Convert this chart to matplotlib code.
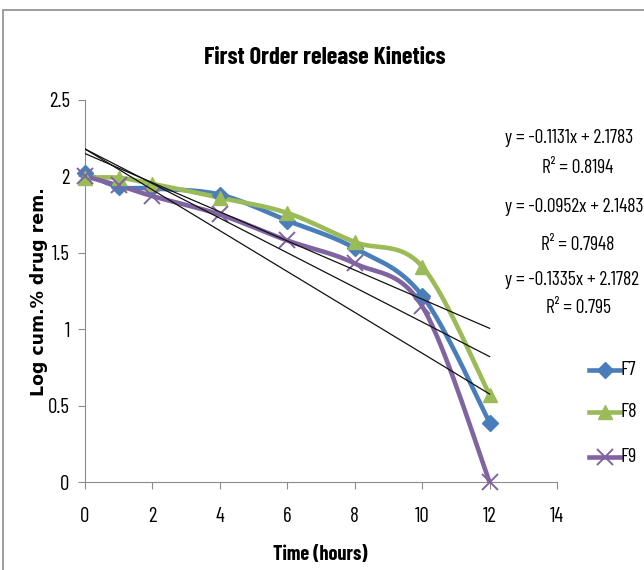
import numpy as np
import matplotlib
matplotlib.use("Agg")
import matplotlib.pyplot as plt
from matplotlib.patches import Rectangle

# time points (hours) and log cumulative % drug remaining
hours = [0, 1, 2, 4, 6, 8, 10, 12]
f7 = [2.02, 1.93, 1.92, 1.88, 1.71, 1.53, 1.22, 0.39]
f8 = [1.99, 1.99, 1.95, 1.86, 1.76, 1.57, 1.41, 0.57]
f9 = [2.00, 1.94, 1.87, 1.75, 1.58, 1.43, 1.15, 0.00]

# linear trendlines: slope, intercept, R^2
fits = {
    "F7": (-0.1131, 2.1783, 0.8194),
    "F8": (-0.0952, 2.1483, 0.7948),
    "F9": (-0.1335, 2.1782, 0.795),
}

colors = {"F7": "#4A7EBB", "F8": "#9BBB59", "F9": "#8064A2"}
markers = {"F7": "D", "F8": "^", "F9": "x"}

narrow = ["Barlow Condensed", "DejaVu Sans"]


def smooth(x, y, n=30):
    # Catmull-Rom style cubic bezier through every point
    p = np.column_stack([x, y]).astype(float)
    pts = [p[0]]
    for i in range(len(p) - 1):
        p0 = p[i - 1] if i > 0 else p[i]
        p1, p2 = p[i], p[i + 1]
        p3 = p[i + 2] if i + 2 < len(p) else p[i + 1]
        c1 = p1 + (p2 - p0) / 6
        c2 = p2 - (p3 - p1) / 6
        t = np.linspace(0, 1, n)[1:, None]
        seg = ((1 - t) ** 3) * p1 + 3 * ((1 - t) ** 2) * t * c1 \
            + 3 * (1 - t) * t ** 2 * c2 + t ** 3 * p2
        pts.extend(seg)
    pts = np.array(pts)
    return pts[:, 0], pts[:, 1]


def marker_kw(name):
    if markers[name] == "x":
        return dict(marker="x", markersize=11, markeredgewidth=1.4)
    if markers[name] == "D":
        return dict(marker="D", markersize=8.5)
    return dict(marker="^", markersize=10)


fig = plt.figure(figsize=(6.44, 5.70), dpi=100)
ax = fig.add_axes([0.132, 0.154, 0.733, 0.671])

# chart area border
fig.patches.append(Rectangle((3 / 644, -0.1), 1.2, 1 - 10 / 570 + 0.1,
                             transform=fig.transFigure, fill=False,
                             edgecolor="#8c8c8c", linewidth=1.2))

series = {"F7": f7, "F8": f8, "F9": f9}
for name, vals in series.items():
    sx, sy = smooth(hours, vals)
    ax.plot(sx, sy, color=colors[name], linewidth=3.3, solid_capstyle="round",
            zorder=3)
    ax.plot(hours, vals, linestyle="none", color=colors[name], zorder=4,
            clip_on=False, **marker_kw(name))

for name, (m, b, r2) in fits.items():
    tx = np.array([0, 12])
    ax.plot(tx, m * tx + b, color="#111111", linewidth=0.9, zorder=5)

ax.set_xlim(0, 14)
ax.set_ylim(0, 2.5)
ax.set_xticks(range(0, 15, 2))
ax.set_yticks([0, 0.5, 1, 1.5, 2, 2.5])
ax.set_yticklabels(["0", "0.5", "1", "1.5", "2", "2.5"])
for s in ["top", "right"]:
    ax.spines[s].set_visible(False)
for s in ["left", "bottom"]:
    ax.spines[s].set_color("#8c8c8c")
ax.tick_params(direction="out", length=5, color="#8c8c8c", labelsize=15)
ax.tick_params(axis="x", pad=13)
ax.tick_params(axis="y", pad=6)
for lab in ax.get_xticklabels() + ax.get_yticklabels():
    lab.set_family(narrow)

fig.text(0.505, 1 - 58 / 570, "First Order release Kinetics", ha="center",
         va="center", fontsize=17.5, fontweight="bold", family=narrow)
fig.text(0.498, 1 - 555 / 570, "Time (hours)", ha="center", va="center",
         fontsize=14.5, fontweight="bold", family=narrow)
fig.text(39 / 644, 1 - 292 / 570, "Log cum.% drug rem.", ha="center",
         va="center", rotation=90, fontsize=12.5, fontweight="bold",
         family="DejaVu Sans")

# trendline equations
eq_y = [(138, 168), (207, 245), (280, 308)]
for (name, (m, b, r2)), (y1, y2) in zip(fits.items(), eq_y):
    fig.text(505 / 644, 1 - y1 / 570, f"y = {m}x + {b}", ha="left",
             va="center", fontsize=14, family=narrow)
    fig.text(578 / 644, 1 - y2 / 570, f"R\u00b2 = {r2}", ha="center",
             va="center", fontsize=14, family=narrow)

# legend drawn as lines + labels on the right
leg_y = [370, 412, 457]
for name, ly in zip(series, leg_y):
    yy = 1 - ly / 570
    fig.add_artist(plt.Line2D([589 / 644, 620 / 644], [yy, yy],
                              color=colors[name], linewidth=3.3,
                              transform=fig.transFigure))
    fig.add_artist(plt.Line2D([604.5 / 644], [yy], color=colors[name],
                              transform=fig.transFigure, **marker_kw(name)))
    fig.text(621 / 644, yy, name, ha="left", va="center", fontsize=14.5,
             family=narrow)

fig.savefig("out.png", dpi=100)
